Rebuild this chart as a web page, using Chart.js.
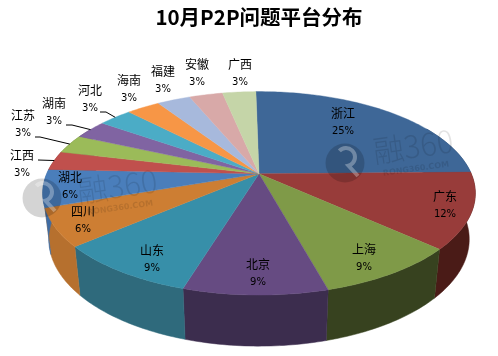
<!DOCTYPE html>
<html>
<head>
<meta charset="utf-8">
<style>html,body{margin:0;padding:0;background:#fff}canvas{display:block}</style>
<script src="https://cdn.jsdelivr.net/npm/chart.js@4"></script>
</head>
<body>
<canvas id="c" width="498" height="356"></canvas>
<script>
const chartTitle = '10月P2P问题平台分布';
const categories = ['浙江','广东','上海','北京','山东','四川','湖北','江西','江苏','湖南','河北','海南','福建','安徽','广西'];
const shares = [25,12,9,9,9,6,6,3,3,3,3,3,3,3,3];
const topColors = ['#3e6797','#983c3a','#7f9a48','#664b82','#378fa9','#cd7e33','#4a7ebb','#c0504d','#9bbb59','#8064a2','#4bacc6','#f79646','#a7b9dc','#d8a9a8','#c5d5a8'];
const wallColors = ['#2b4a6e','#4a1b17','#37421f','#3c2d4e','#2f6a7c','#b6702e','#3f6ca3','#8c3a38','#718a41','#5d4977','#378094','#b56d32','#7a879f','#9d7b7a','#919c7b'];

// layout of the text and the 3D look (not data)
const labelPos = [[343,113],[445,196],[364,249],[258,264],[152,250],[83,211],[70,177],[22,155],[23,115],[54,103],[90,90],[129,80],[163,71],[197,64],[240,64]];
const leaders = {7:[[38,160],[38,160]],8:[[35,137],[40,137]],9:[[66,125],[72,125]],10:[[100,112],[106,112]]};
const K = {a:0.192, ax:1.536, bx:0.709, sx:0.972, sy:1.05, d:45};

function projector(arc){
  const A = arc.outerRadius*K.ax, B = arc.outerRadius*K.bx;
  return phi => {
    const u = Math.sin(phi), v = -Math.cos(phi), w = 1-K.a*v;
    return [arc.x + A*u/w, arc.y + B*v/w];
  };
}
function lower(p, arc){ return [arc.x + K.sx*(p[0]-arc.x), arc.y + K.d + K.sy*(p[1]-arc.y)]; }
function samples(a0,a1){
  const out=[], n=Math.max(2,Math.ceil((a1-a0)/(Math.PI/180)));
  for(let i=0;i<=n;i++) out.push(a0+(a1-a0)*i/n);
  return out;
}
const pie3d = {
  id:'pie3d',
  beforeDatasetsDraw(chart){
    const ctx = chart.ctx, arcs = chart.getDatasetMeta(0).data;
    const lo = 60*Math.PI/180, hi = 300*Math.PI/180;
    const phiOf = x => x + Math.PI/2;
    // walls first
    arcs.forEach((arc,i)=>{
      const P = projector(arc);
      const a0 = Math.max(lo,phiOf(arc.startAngle)), a1 = Math.min(hi,phiOf(arc.endAngle));
      if(a1<=a0) return;
      const pts = samples(a0,a1).map(P);
      ctx.beginPath();
      pts.forEach((p,j)=> j?ctx.lineTo(p[0],p[1]):ctx.moveTo(p[0],p[1]));
      pts.slice().reverse().forEach(p=>{const q=lower(p,arc);ctx.lineTo(q[0],q[1]);});
      ctx.closePath();
      ctx.fillStyle = wallColors[i]; ctx.strokeStyle = wallColors[i]; ctx.lineWidth=.5;
      ctx.fill(); ctx.stroke();
    });
    // top face
    arcs.forEach((arc,i)=>{
      const P = projector(arc);
      const pts = samples(phiOf(arc.startAngle),phiOf(arc.endAngle)).map(P);
      ctx.beginPath(); ctx.moveTo(arc.x,arc.y);
      pts.forEach(p=>ctx.lineTo(p[0],p[1]));
      ctx.closePath();
      ctx.fillStyle = topColors[i]; ctx.strokeStyle = topColors[i]; ctx.lineWidth=.4;
      ctx.fill(); ctx.stroke();
    });
    return false;
  },
  afterDraw(chart){
    const ctx = chart.ctx, arcs = chart.getDatasetMeta(0).data;
    const mark = (lx,ly,tx,ty,sx,sy) => {
      // round logo: a translucent disc with a lighter R-like cut
      ctx.save();
      ctx.globalAlpha = .17; ctx.fillStyle='#000';
      ctx.beginPath(); ctx.arc(lx,ly,19.5,0,Math.PI*2); ctx.fill();
      ctx.globalAlpha = .3; ctx.strokeStyle='#fff'; ctx.lineWidth=4;
      ctx.beginPath(); ctx.arc(lx+1,ly-6,9,-2.4,1.3); ctx.lineTo(lx+13,ly+13); ctx.stroke();
      ctx.restore();
      ctx.save();
      ctx.globalAlpha = .11; ctx.fillStyle='#000';
      ctx.translate(tx,ty); ctx.rotate(-8*Math.PI/180);
      ctx.font='300 31px "Noto Sans CJK SC"'; ctx.textAlign='center'; ctx.textBaseline='middle';
      ctx.fillText('融360',0,0);
      ctx.restore();
      ctx.save();
      ctx.globalAlpha = .11; ctx.fillStyle='#000';
      ctx.translate(sx,sy); ctx.rotate(-8*Math.PI/180);
      ctx.font='bold 8px "DejaVu Sans"'; ctx.textAlign='center'; ctx.textBaseline='middle';
      ctx.fillText('RONG360.COM',0,0);
      ctx.restore();
    };
    mark(345,163,413,146,416,169);
    mark(42,198,117,186,120,208);
    // leader lines
    ctx.strokeStyle='#000'; ctx.lineWidth=1;
    Object.keys(leaders).forEach(k=>{
      const arc = arcs[k], P = projector(arc), L = leaders[k];
      const e = P((arc.startAngle+arc.endAngle)/2+Math.PI/2);
      ctx.beginPath(); ctx.moveTo(L[0][0],L[0][1]); ctx.lineTo(L[1][0],L[1][1]); ctx.lineTo(e[0],e[1]); ctx.stroke();
    });
    // data labels
    ctx.fillStyle='#000'; ctx.textAlign='center'; ctx.textBaseline='middle';
    categories.forEach((name,i)=>{
      const [x,y] = labelPos[i];
      ctx.font='12px "Noto Sans CJK SC"';
      ctx.fillText(name,x,y);
      ctx.font='10px "DejaVu Sans"';
      ctx.fillText(shares[i]+'%',x,y+18);
    });
  }
};
new Chart(document.getElementById('c'),{
  type:'pie',
  data:{labels:categories,datasets:[{data:shares,backgroundColor:topColors,borderWidth:0}]},
  options:{
    responsive:false,animation:false,rotation:-1,
    layout:{padding:{left:20,bottom:44,top:3,right:0}},
    plugins:{
      legend:{display:false},tooltip:{enabled:false},
      title:{display:true,text:chartTitle,color:'#000',align:'center',
        font:{family:'"Noto Sans CJK SC"',size:20.5,weight:'bold'},
        padding:{top:2,bottom:6}}
    }
  },
  plugins:[pie3d]
});
</script>
</body>
</html>
